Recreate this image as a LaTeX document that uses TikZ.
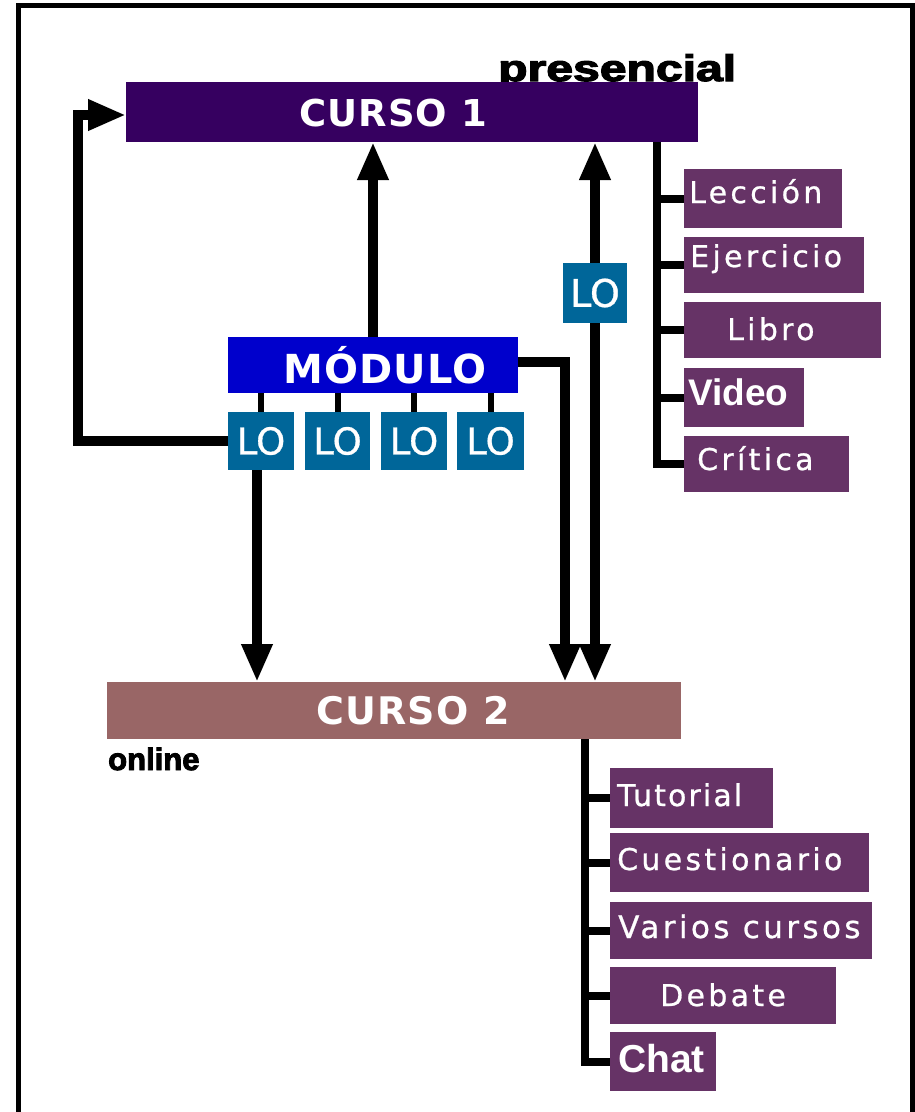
\documentclass[tikz,border=0pt]{standalone}
\usepackage{fontspec}
\usepackage{graphicx}
\usetikzlibrary{arrows.meta,calc}
\setmainfont{DejaVu Sans}
\newfontfamily\itemf{DejaVu Sans}[LetterSpace=11,FakeBold=0.8]
\newfontfamily\titlef{DejaVu Sans Bold}[LetterSpace=3]
\newfontfamily\lof{DejaVu Sans}[FakeBold=0.8]
\newfontfamily\arialb{Liberation Sans Bold}
\newfontfamily\heavy{Liberation Sans Bold}[FakeBold=3]
\definecolor{cursoA}{RGB}{54,0,96}
\definecolor{modc}{RGB}{0,0,204}
\definecolor{loc}{RGB}{0,102,153}
\definecolor{cursoB}{RGB}{153,102,102}
\definecolor{itemc}{RGB}{102,51,102}
\tikzset{
  box/.style={inner sep=0pt, outer sep=0pt, anchor=north west},
  lobox/.style={box, fill=loc, text=white, font=\lof\fontsize{37}{40}\selectfont, minimum height=58pt},
  itembox/.style={box, fill=itemc},
  itemtxt/.style={inner sep=0pt, anchor=base west, text=white, font=\itemf\fontsize{30}{34}\selectfont},
  titletxt/.style={inner sep=0pt, anchor=base, text=white, font=\titlef\fontsize{37}{40}\selectfont},
  conn/.style={line width=9.5pt, draw=black},
  arr/.style={conn, -{Triangle[length=38pt,width=29pt]}},
  trunk/.style={line width=8pt, draw=black},
  tick/.style={line width=6pt, draw=black},
}
\begin{document}
\begin{tikzpicture}[x=1pt,y=-1pt]
\useasboundingbox (0,0) rectangle (915,1112);
\clip (0,0) rectangle (915,1112);
\fill[white] (0,0) rectangle (915,1112);
\draw[line width=5pt] (18,5.5) rectangle (912,1140);

% label presencial (partly behind CURSO 1)
\node[inner sep=0pt, anchor=base west] (pres) at (498,81)
  {\heavy\fontsize{37}{39}\selectfont\scalebox{1.3}[1]{presencial}};

% main boxes
\node[box, fill=cursoA, minimum width=572pt, minimum height=60pt] (c1) at (126,82) {};
\node[box, fill=modc, minimum width=290pt, minimum height=56pt] (mod) at (228,337) {};
\node[box, fill=cursoB, minimum width=574pt, minimum height=57pt] (c2) at (107,682) {};

\node[titletxt] (c1t) at (393,126) {CURSO 1};
\node[titletxt, font=\titlef\fontsize{40}{44}\selectfont] (modt) at (385,383) {MÓDULO};
\node[titletxt, font=\titlef\fontsize{38}{40}\selectfont] (c2t) at (413,724.5) {CURSO 2};

\node[inner sep=0pt, anchor=base west] (onl) at (108,770)
  {\heavy\fontsize{31}{33}\selectfont online};

% LO boxes
\node[lobox, minimum width=66pt] (lo1) at (228,412) {LO};
\node[lobox, minimum width=65pt] (lo2) at (305,412) {LO};
\node[lobox, minimum width=66pt] (lo3) at (381,412) {LO};
\node[lobox, minimum width=67pt] (lo4) at (457,412) {LO};
\node[lobox, minimum width=64pt, minimum height=60pt, font=\lof\fontsize{38}{40}\selectfont] (loR) at (563,263) {LO};

% items of CURSO 1
\node[itembox, minimum width=158pt, minimum height=59pt] (lec) at (684,169) {};
\node[itembox, minimum width=180pt, minimum height=56pt] (eje) at (684,237) {};
\node[itembox, minimum width=197pt, minimum height=56pt] (lib) at (684,302) {};
\node[itembox, minimum width=120pt, minimum height=59pt] (vid) at (684,368) {};
\node[itembox, minimum width=165pt, minimum height=56pt] (cri) at (684,436) {};
\node[itemtxt] (lecT) at (689,203) {Lección};
\node[itemtxt] (ejeT) at (690,267) {Ejercicio};
\node[itemtxt] (libT) at (727,340) {Libro};
\node[itemtxt, font=\arialb\fontsize{37}{40}\selectfont] (vidT) at (688,405) {Video};
\node[itemtxt] (criT) at (697,470) {Crítica};

% items of CURSO 2
\node[itembox, minimum width=163pt, minimum height=60pt] (tut) at (610,768) {};
\node[itembox, minimum width=259pt, minimum height=59pt] (cue) at (610,833) {};
\node[itembox, minimum width=262pt, minimum height=57pt] (var) at (610,902) {};
\node[itembox, minimum width=226pt, minimum height=57pt] (deb) at (610,967) {};
\node[itembox, minimum width=106pt, minimum height=59pt] (cha) at (610,1032) {};
\node[itemtxt, font=\itemf\fontsize{30}{34}\selectfont\addfontfeature{LetterSpace=7}] (tutT) at (617,806) {Tutorial};
\node[itemtxt] (cueT) at (617,870) {Cuestionario};
\node[itemtxt, font=\itemf\fontsize{31}{34}\selectfont] (varT) at (618,938) {Varios cursos};
\node[itemtxt] (debT) at (660,1006) {Debate};
\node[itemtxt, font=\arialb\fontsize{39}{42}\selectfont] (chaT) at (618,1072) {Chat};

% trunks
\coordinate (t1) at (657,142);
\draw[trunk] (t1) |- (cri.west);
\foreach \n in {lec,eje,lib,vid} \draw[trunk] (t1 |- \n.west) -- (\n.west);
\coordinate (t2) at (585,739);
\draw[trunk] (t2) |- (cha.west);
\foreach \n in {tut,cue,var,deb} \draw[trunk] (t2 |- \n.west) -- (\n.west);

% module to LO ticks
\foreach \n in {lo1,lo2,lo3,lo4} \draw[tick] (\n.north) -- (\n.north |- mod.south);

% arrows
\coordinate (xl) at (78,0);
\draw[arr] (lo1.west) -| ($(xl |- c1.west)+(0,3)$) -- ($(c1.west)+(0,3)$);
\draw[arr] (mod.north) -- (mod.north |- c1.south);
\coordinate (m2) at (565,682);
\draw[arr] ($(mod.east)+(0,-3)$) -| (m2);
\draw[arr] (loR.north) -- (loR.north |- c1.south);
\draw[arr] (loR.south) -- (loR.south |- c2.north);
\draw[arr] ($(lo1.south)+(-4,0)$) -- ($(lo1.south |- c2.north)+(-4,0)$);
\end{tikzpicture}
\end{document}
